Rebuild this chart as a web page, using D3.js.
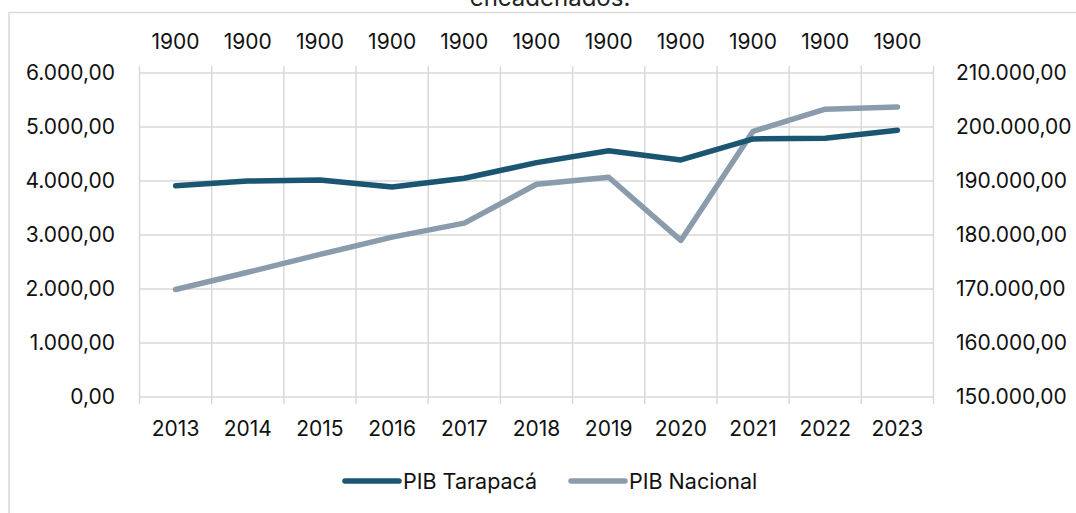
<!DOCTYPE html>
<html>
<head>
<meta charset="utf-8">
<script src="https://cdn.jsdelivr.net/npm/d3@7"></script>
<style>
  html, body { margin: 0; padding: 0; background: #fff; }
  svg { display: block; font-family: Inter, "Liberation Sans", Arial, sans-serif; }
</style>
</head>
<body>
<svg id="chart" width="1076" height="513"></svg>
<script>
const years = ["2013", "2014", "2015", "2016", "2017", "2018", "2019", "2020", "2021", "2022", "2023"];
const topLabels = ["1900", "1900", "1900", "1900", "1900", "1900", "1900", "1900", "1900", "1900", "1900"];
const pibTarapaca = [3910, 4000, 4020, 3890, 4050, 4340, 4560, 4390, 4780, 4790, 4940];
const pibNacional = [169900, 173100, 176400, 179600, 182200, 189400, 190700, 179000, 199200, 203300, 203700];
const leftTicks = [0, 1000, 2000, 3000, 4000, 5000, 6000];
const rightTicks = [150000, 160000, 170000, 180000, 190000, 200000, 210000];

const svg = d3.select("#chart");
const plotLeft = 139.5, plotRight = 933.5, plotTop = 73, plotBottom = 397;
const teal = "#1a5671", grey = "#8a9bac", gridColor = "#d9d9d9";
const labelSize = 21;

const fmt = v => d3.format(",.2f")(v).replace(/,/g, "#").replace(".", ",").replace(/#/g, ".");

const x = d3.scaleBand().domain(years).range([plotLeft, plotRight]);
const yL = d3.scaleLinear().domain([0, 6000]).range([plotBottom, plotTop]);
const yR = d3.scaleLinear().domain([150000, 210000]).range([plotBottom, plotTop]);

// outer frame
svg.append("rect")
  .attr("x", 9).attr("y", 12.5).attr("width", 1080).attr("height", 520)
  .attr("fill", "none").attr("stroke", gridColor).attr("stroke-width", 1.5);

// title (only last line visible)
svg.append("text")
  .attr("x", 550).attr("y", 6)
  .attr("text-anchor", "middle")
  .attr("font-size", 24).attr("fill", "#222")
  .text("encadenados.");

// horizontal gridlines
svg.append("g").selectAll("line")
  .data(leftTicks).join("line")
  .attr("x1", plotLeft).attr("x2", plotRight)
  .attr("y1", d => yL(d)).attr("y2", d => yL(d))
  .attr("stroke", gridColor).attr("stroke-width", 1.5);

// vertical gridlines at category boundaries (with tick overhang)
const bounds = years.map(y => x(y)).concat([plotRight]);
svg.append("g").selectAll("line")
  .data(bounds).join("line")
  .attr("x1", d => d).attr("x2", d => d)
  .attr("y1", plotTop - 7).attr("y2", plotBottom + 7)
  .attr("stroke", gridColor).attr("stroke-width", 1.5);

// left axis labels
svg.append("g").selectAll("text")
  .data(leftTicks).join("text")
  .attr("x", 115).attr("y", d => yL(d))
  .attr("dy", "0.35em").attr("text-anchor", "end")
  .attr("font-size", labelSize).attr("fill", "#111")
  .text(fmt);

// right axis labels
svg.append("g").selectAll("text")
  .data(rightTicks).join("text")
  .attr("x", 956).attr("y", d => yR(d))
  .attr("dy", "0.35em").attr("text-anchor", "start")
  .attr("font-size", labelSize).attr("fill", "#111")
  .text(fmt);

// bottom axis labels
svg.append("g").selectAll("text")
  .data(years).join("text")
  .attr("x", d => x(d) + x.bandwidth() / 2).attr("y", 429)
  .attr("dy", "0.35em").attr("text-anchor", "middle")
  .attr("font-size", labelSize).attr("fill", "#111")
  .text(d => d);

// top axis labels
svg.append("g").selectAll("text")
  .data(topLabels).join("text")
  .attr("x", (d, i) => x(years[i]) + x.bandwidth() / 2).attr("y", 42)
  .attr("dy", "0.35em").attr("text-anchor", "middle")
  .attr("font-size", labelSize).attr("fill", "#111")
  .text(d => d);

const cx = (d, i) => x(years[i]) + x.bandwidth() / 2;

svg.append("path")
  .datum(pibNacional)
  .attr("fill", "none").attr("stroke", grey).attr("stroke-width", 5.5)
  .attr("stroke-linecap", "round").attr("stroke-linejoin", "round")
  .attr("d", d3.line().x(cx).y(d => yR(d)));

svg.append("path")
  .datum(pibTarapaca)
  .attr("fill", "none").attr("stroke", teal).attr("stroke-width", 5.5)
  .attr("stroke-linecap", "round").attr("stroke-linejoin", "round")
  .attr("d", d3.line().x(cx).y(d => yL(d)));

// legend
const legend = [
  { name: "PIB Tarapacá", color: teal, x: 345 },
  { name: "PIB Nacional", color: grey, x: 571 }
];
const lg = svg.append("g").selectAll("g").data(legend).join("g")
  .attr("transform", d => `translate(${d.x},481)`);
lg.append("line")
  .attr("x1", 0).attr("x2", 54)
  .attr("stroke", d => d.color).attr("stroke-width", 5.5)
  .attr("stroke-linecap", "round");
lg.append("text")
  .attr("x", 58).attr("dy", "0.35em")
  .attr("font-size", 21.5).attr("fill", "#111")
  .text(d => d.name);
</script>
</body>
</html>
